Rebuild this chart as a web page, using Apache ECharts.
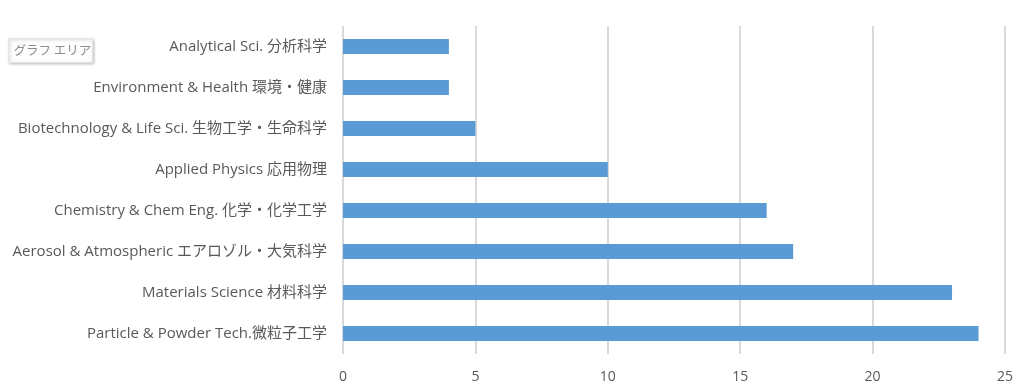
<!DOCTYPE html>
<html><head><meta charset="utf-8">
<script src="https://cdn.jsdelivr.net/npm/echarts@6/dist/echarts.min.js"></script>
<style>html,body{margin:0;padding:0;background:#fff}#c{width:1023px;height:388px}</style>
</head><body><div id="c"></div>
<script>
const categories = [
  "Particle & Powder Tech.微粒子工学",
  "Materials Science 材料科学",
  "Aerosol & Atmospheric エアロゾル・大気科学",
  "Chemistry & Chem Eng. 化学・化学工学",
  "Applied Physics 応用物理",
  "Biotechnology & Life Sci. 生物工学・生命科学",
  "Environment & Health 環境・健康",
  "Analytical Sci. 分析科学"
];
const values = [24, 23, 17, 16, 10, 5, 4, 4];
const xTicks = [0, 5, 10, 15, 20, 25];
const chartAreaLabel = "グラフ エリア";

const font = "'Open Sans','Noto Sans CJK JP',sans-serif";
const chart = echarts.init(document.getElementById('c'), null, {renderer: 'canvas'});
chart.setOption({
  animation: false,
  grid: {left: 343, right: 18, top: 26, bottom: 34, containLabel: false},
  xAxis: {
    type: 'value', min: xTicks[0], max: xTicks[xTicks.length - 1], interval: 5,
    axisLine: {show: false}, axisTick: {show: false},
    splitLine: {show: true, lineStyle: {color: '#d9d9d9', width: 2}},
    axisLabel: {color: '#595959', fontSize: 14, fontFamily: font, margin: 16}
  },
  yAxis: {
    type: 'category', data: categories,
    axisLine: {show: false}, axisTick: {show: false},
    axisLabel: {color: '#595959', fontSize: 15, fontFamily: font, margin: 16}
  },
  series: [{
    type: 'bar', data: values, barWidth: 15,
    itemStyle: {color: '#5b9bd5'}
  }],
  graphic: [{
    type: 'group', left: 8, top: 38,
    children: [
      {type: 'rect', shape: {x: 0, y: 0, width: 84, height: 24},
       style: {fill: '#fdfdfd', stroke: '#e6e6e6', lineWidth: 1, shadowBlur: 3, shadowOffsetX: 1, shadowOffsetY: 1, shadowColor: 'rgba(0,0,0,0.25)'}},
      {type: 'text', x: 5, y: 5, style: {text: chartAreaLabel, fill: '#8c8c8c', fontSize: 12.5, fontFamily: "'Noto Sans CJK JP',sans-serif"}}
    ]
  }]
});
</script></body></html>
